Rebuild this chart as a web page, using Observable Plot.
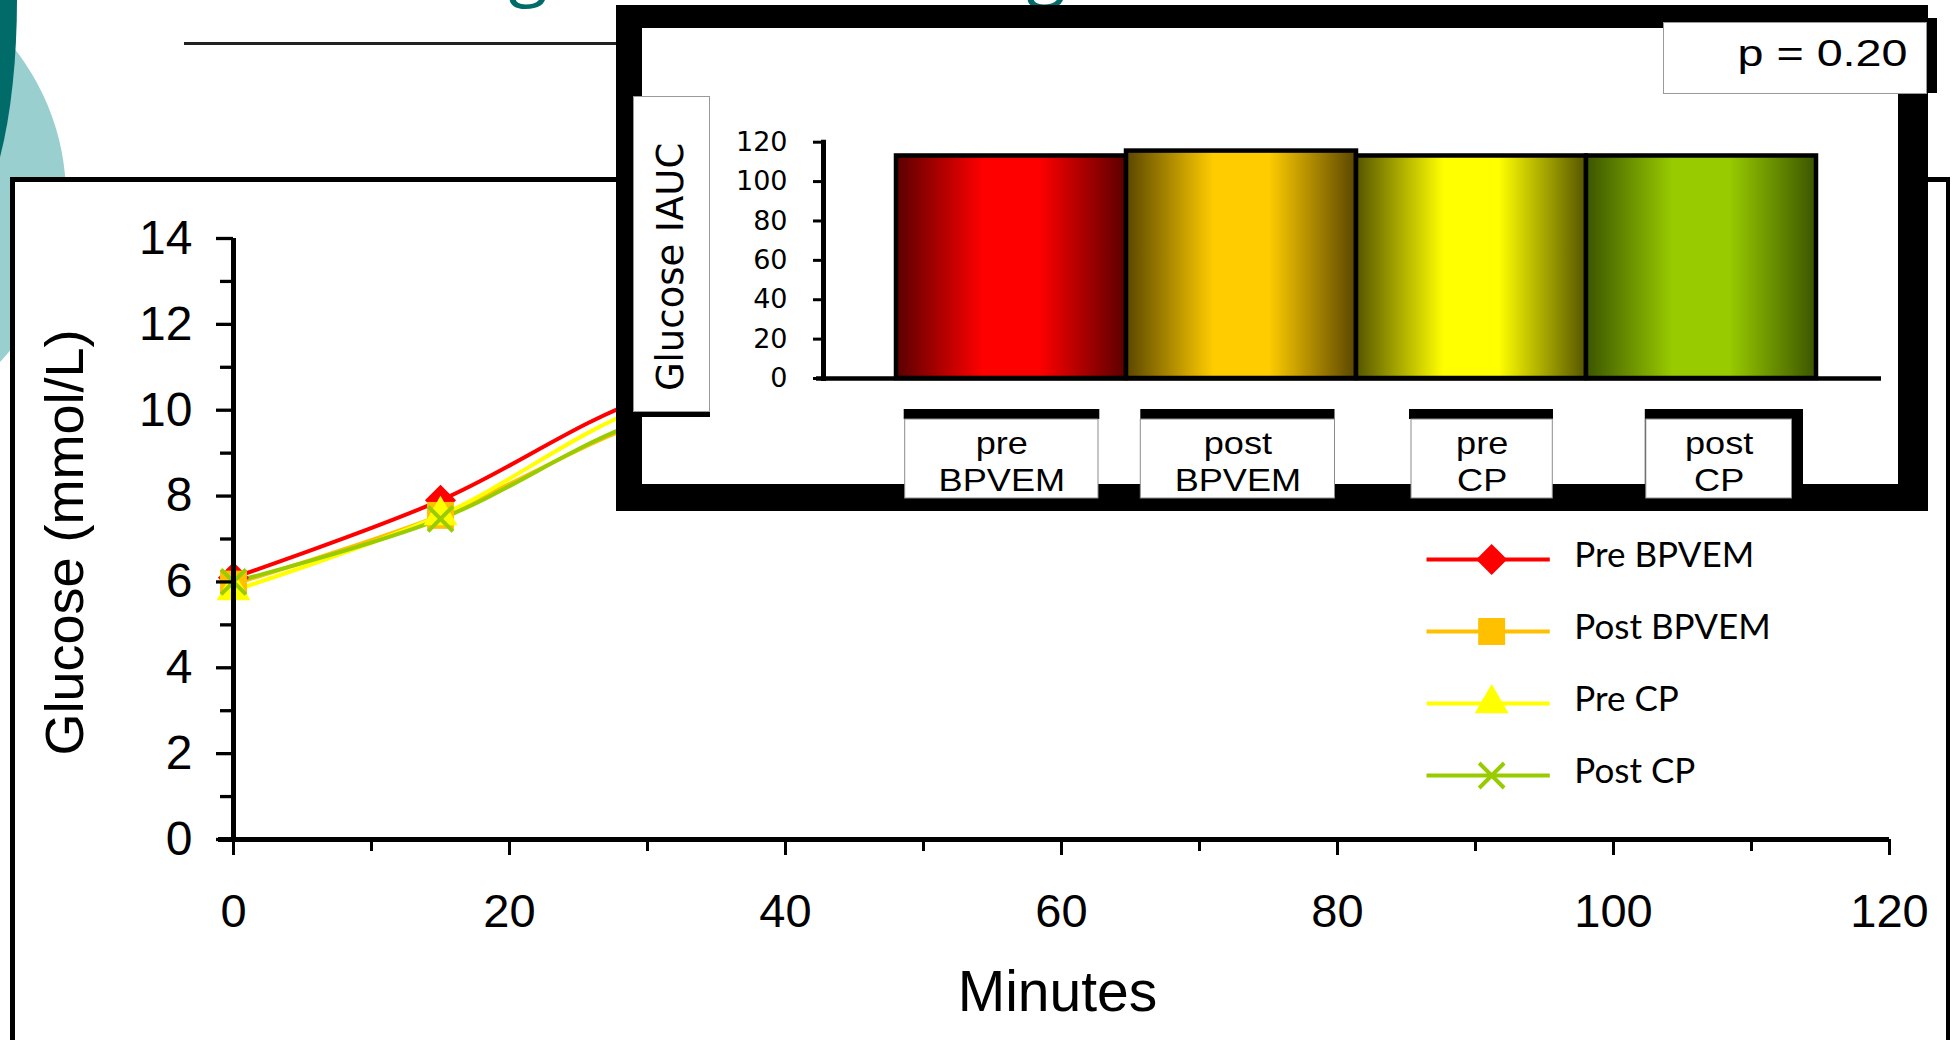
<!DOCTYPE html>
<html>
<head>
<meta charset="utf-8">
<script src="https://cdn.jsdelivr.net/npm/d3@7"></script>
<script src="https://cdn.jsdelivr.net/npm/@observablehq/plot@0.6"></script>
<style>
html, body { margin: 0; padding: 0; background: #fff; }
#page { position: relative; width: 1955px; height: 1040px; overflow: hidden; background: #fff; font-family: "Liberation Sans", Arial, sans-serif; }
.abs { position: absolute; }
svg { overflow: visible; }
</style>
</head>
<body>
<div id="page">
  <!-- slide decoration -->
  <div class="abs" style="left:-412px;top:-42px;width:478px;height:478px;border-radius:50%;background:#9ACFCF"></div>
  <div class="abs" style="left:-97px;top:-222px;width:114px;height:443px;border-radius:50%;background:#006B68"></div>
  <svg class="abs" style="left:0;top:0" width="1955" height="60">
    <text x="528" y="-8" font-family="Open Sans" font-size="72" fill="#006B68" text-anchor="middle">g</text>
    <text x="1046" y="-8" font-family="Open Sans" font-size="72" fill="#006B68" text-anchor="middle">g</text>
  </svg>
  <div class="abs" style="left:184px;top:41.5px;width:440px;height:3px;background:#222"></div>
  <!-- main chart box -->
  <div class="abs" style="left:10px;top:177px;width:1940px;height:900px;box-sizing:border-box;border:5px solid #000;border-right-width:4px;border-bottom:none;background:#fff"></div>
  <div id="mainHost" class="abs" style="left:0;top:0;width:1955px;height:1040px"></div>
  <div id="legendHost" class="abs" style="left:1400px;top:520px;width:400px;height:300px"></div>
  <!-- inset frame -->
  <div class="abs" style="left:616px;top:5px;width:1312px;height:506px;background:#000"></div>
  <div class="abs" style="left:642px;top:28px;width:1256px;height:456px;background:#fff"></div>
  <div class="abs" style="left:1673px;top:18px;width:264px;height:75px;background:#000"></div>
  <div class="abs" style="left:1663px;top:22px;width:264px;height:72px;box-sizing:border-box;border:1px solid #999;background:#fff"></div>
  <div class="abs" style="left:633px;top:101px;width:77px;height:316px;background:#000"></div>
  <div class="abs" style="left:633px;top:96px;width:77px;height:316px;box-sizing:border-box;border:1px solid #999;background:#fff"></div>
  <div id="insetHost" class="abs" style="left:616px;top:5px;width:1321px;height:506px"></div>
  <div id="labelHost" class="abs" style="left:616px;top:409px;width:1321px;height:89px"></div>
</div>
<script>
// ---------------- data ----------------
const minutes = [0, 15, 30, 45, 60, 90, 120];
const seriesNames = ["Pre BPVEM", "Post BPVEM", "Pre CP", "Post CP"];
const preBPVEM  = [6.1, 7.9, 10.3, 11.3, 10.8, 9.6, 8.6];
const postBPVEM = [5.95, 7.55, 9.75, 10.9, 10.7, 9.5, 8.5];
const preCP     = [5.8, 7.55, 10.1, 11.0, 10.6, 9.4, 8.4];
const postCP    = [6.0, 7.47, 9.8, 10.8, 10.5, 9.3, 8.3];
const yTicks = [0, 2, 4, 6, 8, 10, 12, 14];
const yMinorTicks = [1, 3, 5, 7, 9, 11, 13];
const xTicks = [0, 20, 40, 60, 80, 100, 120];
const xMinorTicks = [10, 30, 50, 70, 90, 110];
const yTitle = "Glucose (mmol/L)";
const xTitle = "Minutes";

const barCategories = ["pre BPVEM", "post BPVEM", "pre CP", "post CP"];
const iauc = [113, 115.5, 113, 113];
const iaucTicks = [0, 20, 40, 60, 80, 100, 120];
const iaucTitle = "Glucose IAUC";
const pValueText = "p = 0.20";

// ---------------- styles ----------------
const seriesColors = ["#FF0000", "#FFC000", "#FFFF00", "#99CC00"];
const seriesSymbols = ["diamond2", "square", "triangle", "times"];
const markerR = [14, 15.2, 12.6, 11.4];
const barGradients = [
  ["#5a0000", "#ff0000"],
  ["#5a4600", "#ffcc00"],
  ["#555500", "#ffff00"],
  ["#3b5500", "#99cc00"]
];
// label boxes: white box insets within band, black shadow insets
const labelBoxes = [
  {l: 8.7, r: 28, sl: 7.7, sr: 26.7, sb: 79},
  {l: 14.3, r: 21.5, sl: 14.3, sr: 21.5, sb: 79},
  {l: 55, r: 33.7, sl: 53, sr: 33, sb: 79},
  {l: 59.8, r: 24.5, sl: 58.8, sr: 13, sb: 0}
];

const seriesValues = [preBPVEM, postBPVEM, preCP, postCP];
const rows = seriesNames.flatMap((s, k) => minutes.map((t, i) => ({series: s, t, v: seriesValues[k][i]})));
const bars = barCategories.map((c, i) => ({cat: c, value: iauc[i], grad: "iaucGrad" + i}));

const colorScale = {domain: seriesNames, range: seriesColors};
const symbolScale = {domain: seriesNames, range: seriesSymbols};
const sans = "Liberation Sans, Arial, sans-serif";

// ---------------- main chart ----------------
const main = Plot.plot({
  width: 1955, height: 1040,
  marginLeft: 233, marginRight: 66, marginTop: 238, marginBottom: 201,
  x: {domain: [0, 120]},
  y: {domain: [0, 14]},
  color: colorScale,
  symbol: symbolScale,
  style: {background: "transparent", color: "#000", fontFamily: sans, overflow: "visible", maxWidth: "none"},
  marks: [
    Plot.line(rows, {x: "t", y: "v", z: "series", stroke: "series", strokeWidth: 4, curve: "catmull-rom"}),
    ...seriesNames.map((s, k) => {
      const d = rows.filter(r => r.series === s);
      return seriesSymbols[k] === "times"
        ? Plot.dot(d, {x: "t", y: "v", symbol: "series", stroke: "series", strokeWidth: 4, r: markerR[k]})
        : Plot.dot(d, {x: "t", y: "v", symbol: "series", fill: "series", r: markerR[k]});
    }),
    Plot.ruleX([0], {strokeWidth: 5}),
    Plot.ruleY([0], {strokeWidth: 5, insetLeft: -15}),
    Plot.axisY({ticks: yTicks, tickSize: 17, tickPadding: 24, fontSize: 48, strokeWidth: 3.3, label: null}),
    Plot.axisY({ticks: yMinorTicks, tickSize: 13, tickFormat: () => "", strokeWidth: 3.3, label: null}),
    Plot.axisX({ticks: xTicks, tickSize: 16, tickPadding: 38, fontSize: 47, strokeWidth: 3, label: null}),
    Plot.axisX({ticks: xMinorTicks, tickSize: 12, tickFormat: () => "", strokeWidth: 3, label: null}),
    Plot.text([yTitle], {frameAnchor: "left", textAnchor: "middle", lineAnchor: "middle", rotate: -90, dx: -168, dy: 3.5, fontSize: 54}),
    Plot.text([xTitle], {frameAnchor: "bottom", textAnchor: "middle", lineAnchor: "middle", dx: -4, dy: 153, fontSize: 57})
  ]
});
document.getElementById("mainHost").appendChild(main);

// ---------------- legend ----------------
const legend = Plot.plot({
  width: 400, height: 300,
  marginLeft: 26.5, marginRight: 250.2, marginTop: 39, marginBottom: 45,
  y: {type: "point", domain: seriesNames, padding: 0, axis: null},
  color: colorScale,
  symbol: symbolScale,
  style: {background: "transparent", color: "#000", overflow: "visible", maxWidth: "none"},
  marks: [
    Plot.ruleY(seriesNames, {y: d => d, stroke: d => d, strokeWidth: 4}),
    ...seriesNames.map((s, k) => seriesSymbols[k] === "times"
      ? Plot.dot([s], {y: d => d, symbol: d => d, stroke: d => d, strokeWidth: 4, r: markerR[k], dx: 3})
      : Plot.dot([s], {y: d => d, symbol: d => d, fill: d => d, r: markerR[k], dx: 3})),
    Plot.text(seriesNames, {y: d => d, frameAnchor: "right", textAnchor: "start", dx: 24, dy: -4, fontSize: 35, fontFamily: "Lato, Open Sans, sans-serif", fill: "#000"})
  ]
});
document.getElementById("legendHost").appendChild(legend);

// ---------------- inset bar chart ----------------
const bandX = {type: "band", domain: barCategories, paddingInner: 0, paddingOuter: 0.2925, align: 0.526, axis: null};
const inset = Plot.plot({
  width: 1321, height: 506,
  marginLeft: 207, marginRight: 56, marginTop: 136.7, marginBottom: 133,
  x: bandX,
  y: {domain: [0, 120]},
  color: {type: "identity"},
  style: {background: "transparent", color: "#000", fontFamily: sans, overflow: "visible", maxWidth: "none"},
  marks: [
    Plot.barY(bars, {x: "cat", y: "value", fill: d => `url(#${d.grad})`, stroke: "#000", strokeWidth: 4.5}),
    Plot.ruleY([0], {strokeWidth: 4.5, insetLeft: -7}),
    Plot.axisY({ticks: iaucTicks, tickSize: 10, tickPadding: 26, fontSize: 27, fontFamily: "DejaVu Sans", strokeWidth: 3, label: null}),
    Plot.frame({anchor: "left", strokeWidth: 5}),
    Plot.text([iaucTitle], {frameAnchor: "left", textAnchor: "middle", lineAnchor: "middle", rotate: -90, dx: -152, dy: 6.6, fontSize: 37, fontFamily: "DejaVu Sans"}),
    Plot.text([pValueText], {frameAnchor: "top-right", textAnchor: "end", lineAnchor: "bottom", dx: 26, dy: -76, fontSize: 36})
  ]
});
const defs = d3.select(inset).insert("defs", ":first-child");
barGradients.forEach(([dark, bright], i) => {
  const g = defs.append("linearGradient").attr("id", "iaucGrad" + i).attr("x1", 0).attr("x2", 1).attr("y1", 0).attr("y2", 0);
  [[0, dark], [0.38, bright], [0.62, bright], [1, dark]].forEach(([o, c]) => g.append("stop").attr("offset", o).attr("stop-color", c));
});
document.getElementById("insetHost").appendChild(inset);

// ---------------- inset category labels ----------------
const labelMarks = [];
barCategories.forEach((c, i) => {
  const b = labelBoxes[i];
  const [l1, l2] = [c.slice(0, c.indexOf(" ")), c.slice(c.indexOf(" ") + 1)];
  labelMarks.push(
    Plot.cell([c], {x: d => d, fill: "#000", insetLeft: b.sl, insetRight: b.sr, insetBottom: b.sb}),
    Plot.cell([c], {x: d => d, fill: "#fff", stroke: "#8c8c8c", strokeWidth: 1, insetLeft: b.l, insetRight: b.r, insetTop: 10}),
    Plot.text([c], {x: d => d, text: () => l1, frameAnchor: "top", lineAnchor: "bottom", dy: 44.3, dx: (b.l - b.r) / 2, fontSize: 31.7}),
    Plot.text([c], {x: d => d, text: () => l2, frameAnchor: "top", lineAnchor: "bottom", dy: 81, dx: (b.l - b.r) / 2, fontSize: 31.7})
  );
});
const labels = Plot.plot({
  width: 1321, height: 89,
  marginLeft: 207, marginRight: 56, marginTop: 0, marginBottom: 0,
  x: bandX,
  style: {background: "transparent", color: "#000", fontFamily: sans, overflow: "visible", maxWidth: "none"},
  marks: labelMarks
});
document.getElementById("labelHost").appendChild(labels);

// horizontal stretch of the pasted inset's text
labels.querySelectorAll("text").forEach(t => {
  const L = t.getComputedTextLength();
  t.setAttribute("textLength", L * 1.14);
  t.setAttribute("lengthAdjust", "spacingAndGlyphs");
});
inset.querySelectorAll("text").forEach(t => {
  if (t.textContent === pValueText) {
    t.setAttribute("textLength", 170);
    t.setAttribute("lengthAdjust", "spacingAndGlyphs");
  }
});
</script>
</body>
</html>
